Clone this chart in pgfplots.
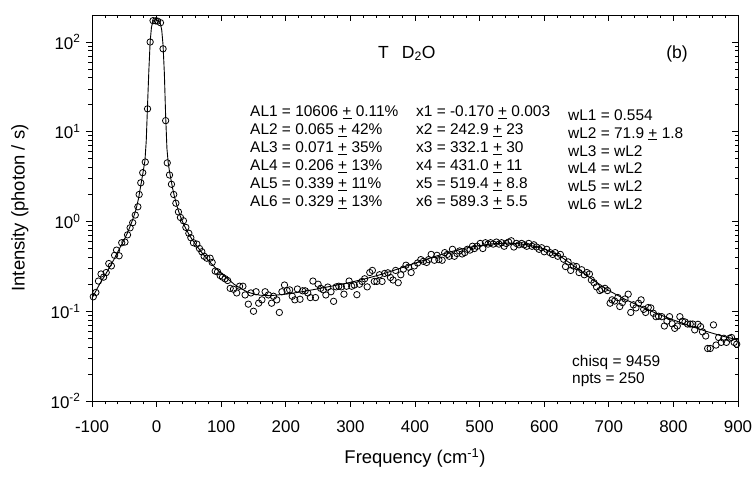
\documentclass[border=0pt]{standalone}
\usepackage{pgfplots}
\pgfplotsset{compat=1.18}
\usepackage{fontspec}
\setmainfont{Liberation Sans}

\begin{document}
\begin{tikzpicture}[x=1bp,y=1bp]
\begin{axis}[
  at={(0,0)}, anchor=south west,
  scale only axis, width=646bp, height=386bp,
  xmin=-100, xmax=900, ymode=log, ymin=0.01, ymax=200,
  xtick={-100,0,100,200,300,400,500,600,700,800,900},
  minor x tick num=4,
  ytick={0.01,0.1,1,10,100},
  minor ytick={0.02,0.03,0.04,0.05,0.06,0.07,0.08,0.09,0.2,0.3,0.4,0.5,0.6,0.7,0.8,0.9,2,3,4,5,6,7,8,9,20,30,40,50,60,70,80,90},
  major tick length=6bp, minor tick length=3.5bp,
  tick style={black, line width=0.8bp},
  axis line style={line width=0.9bp},
  tick align=outside, xtick pos=left, ytick pos=left,
  xticklabels={-100,0,100,200,300,400,500,600,700,800,900},
  yticklabels={10\textsuperscript{-2},10\textsuperscript{-1},10\textsuperscript{0},10\textsuperscript{1},10\textsuperscript{2}},
  ticklabel style={font=\fontsize{17}{20}\selectfont},
  xticklabel style={yshift=-10bp},
  yticklabel style={xshift=-2bp},
  xlabel={Frequency (cm\textsuperscript{-1})},
  ylabel={Intensity (photon / s)},
  label style={font=\fontsize{18.5}{22}\selectfont},
  x label style={at={(axis description cs:0.5,-0.1477)}, anchor=center},
  y label style={at={(axis description cs:-0.1115,0.5)}, anchor=center},
]
\addplot[black, line width=0.9bp] coordinates {
(-100,0.14) (-95,0.163) (-90,0.19) (-85,0.22) (-80,0.25) (-75,0.29) (-70,0.335) (-65,0.39) (-60,0.46) (-55,0.54) (-50,0.63) (-45,0.75) (-40,0.92) (-36,1.1) (-32,1.35) (-28,1.8) (-25,2.4) (-22,3.2) (-20,3.9) (-18,4.8) (-16,8) (-14,20) (-12,48) (-10,100) (-8,145) (-6,168) (-4,175) (-2,177) (0,176) (2,174) (4,170) (6,160) (8,135) (10,92) (12,45) (14,15) (16,6.5) (18,4.5) (20,3.6) (22,3.0) (25,2.3) (28,1.85) (32,1.45) (36,1.18) (40,1.0) (45,0.84) (50,0.72) (55,0.63) (60,0.56) (70,0.45) (80,0.37) (90,0.31) (100,0.265) (110,0.23) (120,0.2) (130,0.18) (140,0.165) (150,0.156) (160,0.151) (175,0.149) (200,0.155) (225,0.165) (250,0.178) (275,0.193) (300,0.21) (325,0.232) (350,0.26) (375,0.298) (400,0.343) (425,0.395) (450,0.45) (475,0.5) (500,0.54) (525,0.57) (550,0.575) (575,0.55) (600,0.495) (625,0.41) (650,0.305) (675,0.225) (700,0.17) (725,0.136) (750,0.112) (775,0.094) (800,0.08) (825,0.069) (850,0.06) (875,0.053) (900,0.048)
};
\addplot[only marks, mark=o, mark size=3.2bp, mark options={line width=0.8bp, black}] coordinates {
(-98,0.145) (-94,0.162) (-90,0.217) (-86,0.26) (-82,0.24) (-78,0.27) (-74,0.34) (-70,0.32) (-65,0.42) (-62,0.48) (-58,0.415) (-54,0.58) (-49,0.59) (-45,0.71) (-41,0.85) (-37,0.97) (-33,1.18) (-29,1.46) (-27,2.0) (-24.5,2.7) (-21.5,3.5) (-17.5,4.6) (-14,18) (-10,100) (-5.5,173) (-1.5,172) (1.5,171) (6,164) (10,84) (14,13.3) (16.5,4.5) (20,3.3) (23,2.6) (26.5,2.0)
(29.8,1.6) (33.8,1.28) (36.9,1.11) (41.5,1.02) (45.3,0.86) (49.9,0.74) (53,0.66) (57,0.58) (62.3,0.56) (66.4,0.50) (70,0.46) (73.6,0.41) (77.8,0.39) (82.9,0.39) (86,0.35) (90.7,0.28) (94.3,0.275) (98.4,0.25) (102,0.24) (106,0.23) (110,0.22) (113.9,0.18) (119,0.176) (124,0.16) (128.4,0.19) (133.6,0.19) (137,0.152) (142,0.12) (146,0.16) (150,0.10) (154,0.165) (158,0.123)
(163,0.134) (168,0.165) (173,0.152) (178,0.123) (181,0.147) (186,0.134) (190,0.097) (194,0.165) (198,0.196) (202,0.17) (206,0.173) (210,0.147) (214,0.134) (218,0.177) (222,0.136) (226,0.169) (230,0.169) (234,0.16) (238,0.142) (242,0.217) (246,0.142) (250,0.2) (254,0.18) (258,0.173) (262,0.152) (265,0.186) (270,0.165) (274,0.129) (278,0.187) (282,0.19) (286,0.187) (290,0.155) (294,0.19) (298,0.217) (302,0.19) (306,0.196) (310,0.153) (314,0.2) (318,0.215) (322,0.23) (326,0.187) (330,0.27) (334,0.285) (337,0.215) (341,0.215) (345,0.255) (349,0.215) (353,0.264) (358,0.268) (362,0.238) (366,0.223) (370,0.285) (374,0.208) (378,0.255) (382,0.295)
(386,0.326) (390,0.31) (394,0.27) (399,0.32) (404,0.345) (409,0.376) (413,0.36) (418,0.35) (421,0.376) (425,0.43) (430,0.37) (434,0.42) (437,0.376) (442,0.37) (446,0.45) (450,0.43) (453,0.41) (458,0.49) (461,0.41) (465,0.44) (469,0.47) (473,0.435) (477,0.45) (481,0.49) (485,0.48) (489,0.53) (492,0.50) (496,0.53) (501,0.57) (505,0.50) (509,0.58) (513,0.56) (517,0.58) (521,0.56) (526,0.59) (530,0.56) (534,0.58) (538,0.53) (541,0.57) (545,0.59) (549,0.61) (553,0.52) (557,0.57) (561,0.55) (565,0.57) (569,0.55) (573,0.53) (576,0.57) (581,0.53) (584,0.55) (588,0.52) (592,0.49) (596,0.51) (600,0.46) (604,0.49)
(609,0.45) (613,0.43) (617,0.45) (621,0.41) (625,0.43) (630,0.38) (633,0.315) (637,0.355) (641,0.285) (645,0.32) (650,0.315) (654,0.27) (658,0.29) (662,0.255) (666,0.27) (670,0.26) (673,0.223) (677,0.208) (681,0.187) (686,0.17) (689,0.175) (694,0.18) (698,0.17) (702,0.123) (705,0.134) (709,0.13) (714,0.142) (717,0.113) (721,0.125) (725,0.137) (730,0.155) (734,0.097) (738,0.118) (742,0.109) (746,0.123) (750,0.134) (754,0.105) (757,0.097) (761,0.11) (765,0.109) (769,0.095) (773,0.087) (777,0.088) (782,0.087) (786,0.0685) (790,0.0775) (794,0.087) (798,0.0725) (802,0.0645) (806,0.0685) (810,0.087) (814,0.0775) (818,0.076) (822,0.072) (826,0.072) (830,0.072) (833,0.062) (838,0.0715) (842,0.0675) (845,0.059) (850,0.053) (853,0.0385) (857,0.0385) (862,0.0705) (866,0.042) (870,0.051) (874,0.045) (878,0.050) (882,0.045) (887,0.050) (890,0.051) (894,0.045) (898,0.043)
};
\end{axis}
\begin{axis}[
  at={(0,0)}, anchor=south west,
  scale only axis, width=646bp, height=386bp,
  xmin=-100, xmax=900, ymode=log, ymin=0.01, ymax=200,
  xtick={-100,0,100,200,300,400,500,600,700,800,900},
  minor x tick num=4,
  ytick={0.01,0.1,1,10,100},
  minor ytick={0.02,0.03,0.04,0.05,0.06,0.07,0.08,0.09,0.2,0.3,0.4,0.5,0.6,0.7,0.8,0.9,2,3,4,5,6,7,8,9,20,30,40,50,60,70,80,90},
  major tick length=6bp, minor tick length=3.5bp,
  tick style={black, line width=0.8bp},
  axis line style={line width=0.9bp},
  tick align=inside, xtick pos=right, ytick pos=right,
  xticklabels={}, yticklabels={},
]
\addplot[draw=none] coordinates {(0,1)};
\end{axis}

\begin{scope}[every node/.style={font=\fontsize{15.5}{18}\selectfont, inner sep=0pt}]
\node[anchor=base west] at (158,284.0) {AL1 = 10606 \underline{+} 0.11\%};
\node[anchor=base west] at (158,266.1) {AL2 = 0.065 \underline{+} 42\%};
\node[anchor=base west] at (158,248.2) {AL3 = 0.071 \underline{+} 35\%};
\node[anchor=base west] at (158,230.3) {AL4 = 0.206 \underline{+} 13\%};
\node[anchor=base west] at (158,212.4) {AL5 = 0.339 \underline{+} 11\%};
\node[anchor=base west] at (158,194.5) {AL6 = 0.329 \underline{+} 13\%};
\node[anchor=base west] at (324,284.0) {x1 = -0.170 \underline{+} 0.003};
\node[anchor=base west] at (324,266.1) {x2 = 242.9 \underline{+} 23};
\node[anchor=base west] at (324,248.2) {x3 = 332.1 \underline{+} 30};
\node[anchor=base west] at (324,230.3) {x4 = 431.0 \underline{+} 11};
\node[anchor=base west] at (324,212.4) {x5 = 519.4 \underline{+} 8.8};
\node[anchor=base west] at (324,194.5) {x6 = 589.3 \underline{+} 5.5};
\node[anchor=base west] at (476,280.5) {wL1 = 0.554};
\node[anchor=base west] at (476,262.7) {wL2 = 71.9 \underline{+} 1.8};
\node[anchor=base west] at (476,244.9) {wL3 = wL2};
\node[anchor=base west] at (476,227.1) {wL4 = wL2};
\node[anchor=base west] at (476,209.3) {wL5 = wL2};
\node[anchor=base west] at (476,191.5) {wL6 = wL2};
\node[anchor=base west] at (480,34) {chisq = 9459};
\node[anchor=base west] at (480,17.2) {npts = 250};
\end{scope}
\node[font=\fontsize{17.6}{21}\selectfont, inner sep=0pt, anchor=base west] at (286,342.7) {T\hspace{13bp}D\textsubscript{2}O};
\node[font=\fontsize{17.6}{21}\selectfont, inner sep=0pt, anchor=base] at (585,342.5) {(b)};

\pgfresetboundingbox
\path[use as bounding box] (-92,-80) rectangle (662,401);
\end{tikzpicture}
\end{document}
